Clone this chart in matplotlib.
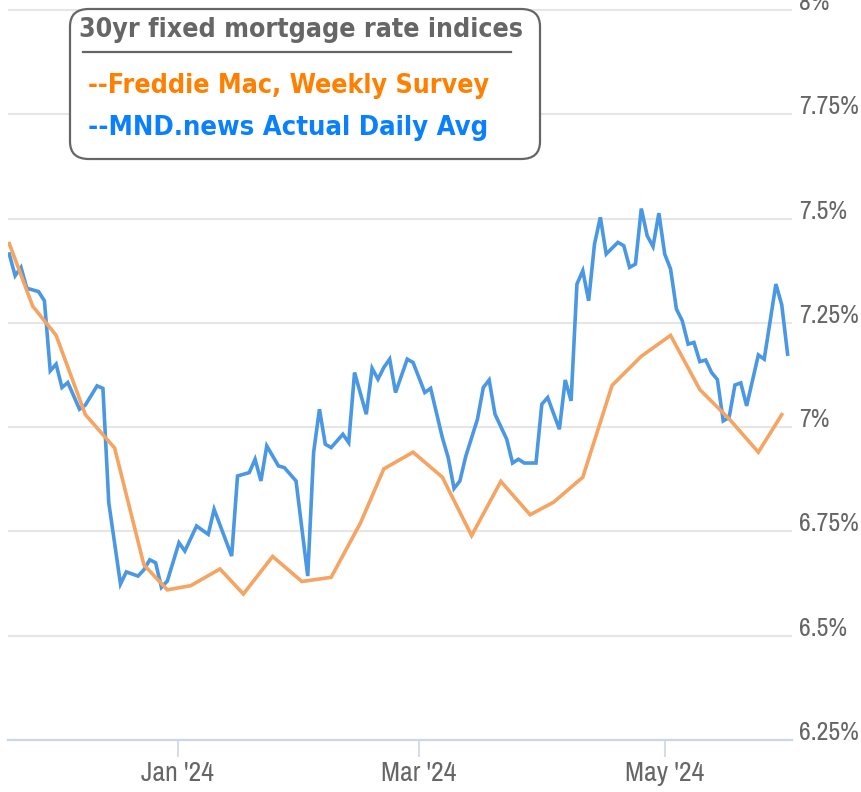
import numpy as np
import matplotlib
matplotlib.use("Agg")
import matplotlib.pyplot as plt
from matplotlib.patches import FancyBboxPatch

# trading days only (ordinal x axis): these days have no daily print
holidays = ["2023-11-23", "2023-11-24", "2023-12-25", "2024-01-01",
            "2024-01-15", "2024-02-19", "2024-03-29", "2024-05-27"]
start_day = "2023-11-16"
end_day = "2024-06-01"

# Freddie Mac weekly survey
freddie_dates = ["2023-11-16", "2023-11-22", "2023-11-30", "2023-12-07", "2023-12-14",
                 "2023-12-21", "2023-12-28", "2024-01-04", "2024-01-11", "2024-01-18",
                 "2024-01-25", "2024-02-01", "2024-02-08", "2024-02-15", "2024-02-22",
                 "2024-02-29", "2024-03-07", "2024-03-14", "2024-03-21", "2024-03-28",
                 "2024-04-04", "2024-04-11", "2024-04-18", "2024-04-25", "2024-05-02",
                 "2024-05-09", "2024-05-16", "2024-05-23", "2024-05-30"]
freddie_rates = [7.44, 7.29, 7.22, 7.03, 6.95, 6.67, 6.61, 6.62, 6.66, 6.60,
                 6.69, 6.63, 6.64, 6.77, 6.90, 6.94, 6.88, 6.74, 6.87, 6.79,
                 6.82, 6.88, 7.10, 7.17, 7.22, 7.09, 7.02, 6.94, 7.03]

# MND daily average (turning points)
mnd_dates = ["2023-11-16", "2023-11-17", "2023-11-20", "2023-11-21", "2023-11-27",
             "2023-11-28", "2023-11-29", "2023-11-30", "2023-12-01", "2023-12-04",
             "2023-12-06", "2023-12-07", "2023-12-11", "2023-12-12", "2023-12-13",
             "2023-12-15", "2023-12-18", "2023-12-20", "2023-12-21", "2023-12-22",
             "2023-12-26", "2023-12-27", "2023-12-28", "2024-01-02", "2024-01-03",
             "2024-01-05", "2024-01-09", "2024-01-10", "2024-01-16", "2024-01-17",
             "2024-01-19", "2024-01-22", "2024-01-23", "2024-01-24", "2024-01-26",
             "2024-01-29", "2024-01-31", "2024-02-02", "2024-02-05", "2024-02-06",
             "2024-02-07", "2024-02-08", "2024-02-12", "2024-02-13", "2024-02-14",
             "2024-02-16", "2024-02-20", "2024-02-21", "2024-02-22", "2024-02-23",
             "2024-02-26", "2024-02-28", "2024-02-29", "2024-03-04", "2024-03-05",
             "2024-03-07", "2024-03-08", "2024-03-11", "2024-03-12", "2024-03-13",
             "2024-03-15", "2024-03-18", "2024-03-19", "2024-03-20", "2024-03-22",
             "2024-03-25", "2024-03-26", "2024-03-27", "2024-04-01", "2024-04-02",
             "2024-04-03", "2024-04-05", "2024-04-08", "2024-04-09", "2024-04-10",
             "2024-04-11", "2024-04-12", "2024-04-15", "2024-04-16", "2024-04-17",
             "2024-04-19", "2024-04-22", "2024-04-23", "2024-04-24", "2024-04-25",
             "2024-04-26", "2024-04-29", "2024-04-30", "2024-05-01", "2024-05-02",
             "2024-05-03", "2024-05-06", "2024-05-07", "2024-05-08", "2024-05-09",
             "2024-05-10", "2024-05-13", "2024-05-14", "2024-05-15", "2024-05-16",
             "2024-05-17", "2024-05-20", "2024-05-21", "2024-05-23", "2024-05-24",
             "2024-05-29", "2024-05-30", "2024-05-31"]
mnd_rates = [7.415, 7.363, 7.383, 7.333, 7.325,
             7.303, 7.135, 7.151, 7.095, 7.107,
             7.043, 7.053, 7.099, 7.093, 6.819,
             6.624, 6.653, 6.643, 6.658, 6.682,
             6.675, 6.616, 6.631, 6.723, 6.703,
             6.763, 6.743, 6.803, 6.691, 6.883,
             6.891, 6.923, 6.871, 6.955, 6.907,
             6.903, 6.871, 6.643, 6.939, 7.043,
             6.959, 6.951, 6.983, 6.963, 7.131,
             7.031, 7.141, 7.115, 7.143, 7.163,
             7.083, 7.163, 7.155, 7.083, 7.093,
             6.975, 6.927, 6.853, 6.871, 6.930,
             7.019, 7.095, 7.113, 7.031, 6.971,
             6.914, 6.923, 6.914, 6.914, 7.055,
             7.071, 6.995, 7.113, 7.063, 7.343,
             7.375, 7.303, 7.439, 7.503, 7.415,
             7.443, 7.435, 7.383, 7.391, 7.524,
             7.459, 7.433, 7.513, 7.415, 7.379,
             7.283, 7.255, 7.199, 7.203, 7.157,
             7.161, 7.131, 7.114, 7.015, 7.023,
             7.101, 7.106, 7.051, 7.173, 7.163,
             7.343, 7.293, 7.175]

tick_dates = ["2024-01-01", "2024-03-01", "2024-05-01"]
tick_labels = ["Jan '24", "Mar '24", "May '24"]
y_ticks = [6.25, 6.5, 6.75, 7.0, 7.25, 7.5, 7.75, 8.0]
y_labels = ["6.25%", "6.5%", "6.75%", "7%", "7.25%", "7.5%", "7.75%", "8%"]

# narrow face for the axis labels, condensed DejaVu if it is missing
TICK_FONT = dict(family=["Archivo Narrow", "DejaVu Sans"], stretch="condensed")
BOX_FONT = dict(family=["DejaVu Sans"], stretch="condensed", weight="bold")


def ordinal(dates):
    # position = number of trading days since the first one
    return np.busday_count(start_day, np.array(dates, dtype="datetime64[D]"),
                           holidays=holidays)


# month ticks that fall on non-trading days sit between neighbouring slots
all_days = np.arange(np.datetime64(start_day), np.datetime64(end_day))
trade_days = all_days[np.is_busday(all_days, holidays=holidays)]
tick_pos = np.interp(np.array(tick_dates, dtype="datetime64[D]").astype(float),
                     trade_days.astype(float), np.arange(len(trade_days)))

fig = plt.figure(figsize=(8.61, 7.92), dpi=100)
ax = fig.add_axes([8 / 861, 52 / 792, 784 / 861, 740 / 792])

ax.plot(ordinal(mnd_dates), mnd_rates, color="#4a98e3", lw=2.6,
        solid_joinstyle="miter", zorder=3)
ax.plot(ordinal(freddie_dates), freddie_rates, color="#f5a462", lw=2.6,
        solid_joinstyle="miter", zorder=4)

ax.set_xlim(-0.22, 133.75)
ax.set_ylim(6.25, 8.024)

for s in ["top", "left", "right"]:
    ax.spines[s].set_visible(False)
ax.spines["bottom"].set_color("#ccd6eb")
ax.spines["bottom"].set_linewidth(1.6)

ax.set_yticks(y_ticks)
ax.set_yticklabels(y_labels)
ax.yaxis.tick_right()
ax.tick_params(axis="y", length=0, pad=5, labelsize=18.5, labelcolor="#666666")
for lab in ax.get_yticklabels():
    lab.set_verticalalignment("baseline")
    lab.set(**TICK_FONT)
ax.grid(axis="y", color="#e6e6e6", lw=1.5)

ax.set_xticks(tick_pos)
ax.set_xticklabels(tick_labels)
ax.tick_params(axis="x", length=12, width=1.2, color="#ccd6eb", pad=3,
               labelsize=20, labelcolor="#666666")
for lab in ax.get_xticklabels():
    lab.set(**TICK_FONT)

# legend box
box = FancyBboxPatch((70 / 861, 1 - 159 / 792), 470 / 861, 150 / 792,
                     boxstyle="round,pad=0,rounding_size=0.022",
                     transform=fig.transFigure, facecolor="white",
                     edgecolor="#666666", lw=1.6, zorder=10)
fig.patches.append(box)
fig.text(79 / 861, 1 - 30 / 792, "30yr fixed mortgage rate indices",
         size=19.2, color="#666666", va="center", zorder=11, **BOX_FONT)
fig.add_artist(plt.Line2D([83 / 861, 511 / 861], [1 - 52 / 792, 1 - 52 / 792],
                          transform=fig.transFigure, color="#666666", lw=1.6,
                          zorder=11))
fig.text(88 / 861, 1 - 86 / 792, "--Freddie Mac, Weekly Survey",
         size=19.2, color="#ff7f00", va="center", zorder=11, **BOX_FONT)
fig.text(88 / 861, 1 - 128 / 792, "--MND.news Actual Daily Avg",
         size=19.6, color="#0a80ff", va="center", zorder=11, **BOX_FONT)

fig.savefig("out.png", dpi=100)
